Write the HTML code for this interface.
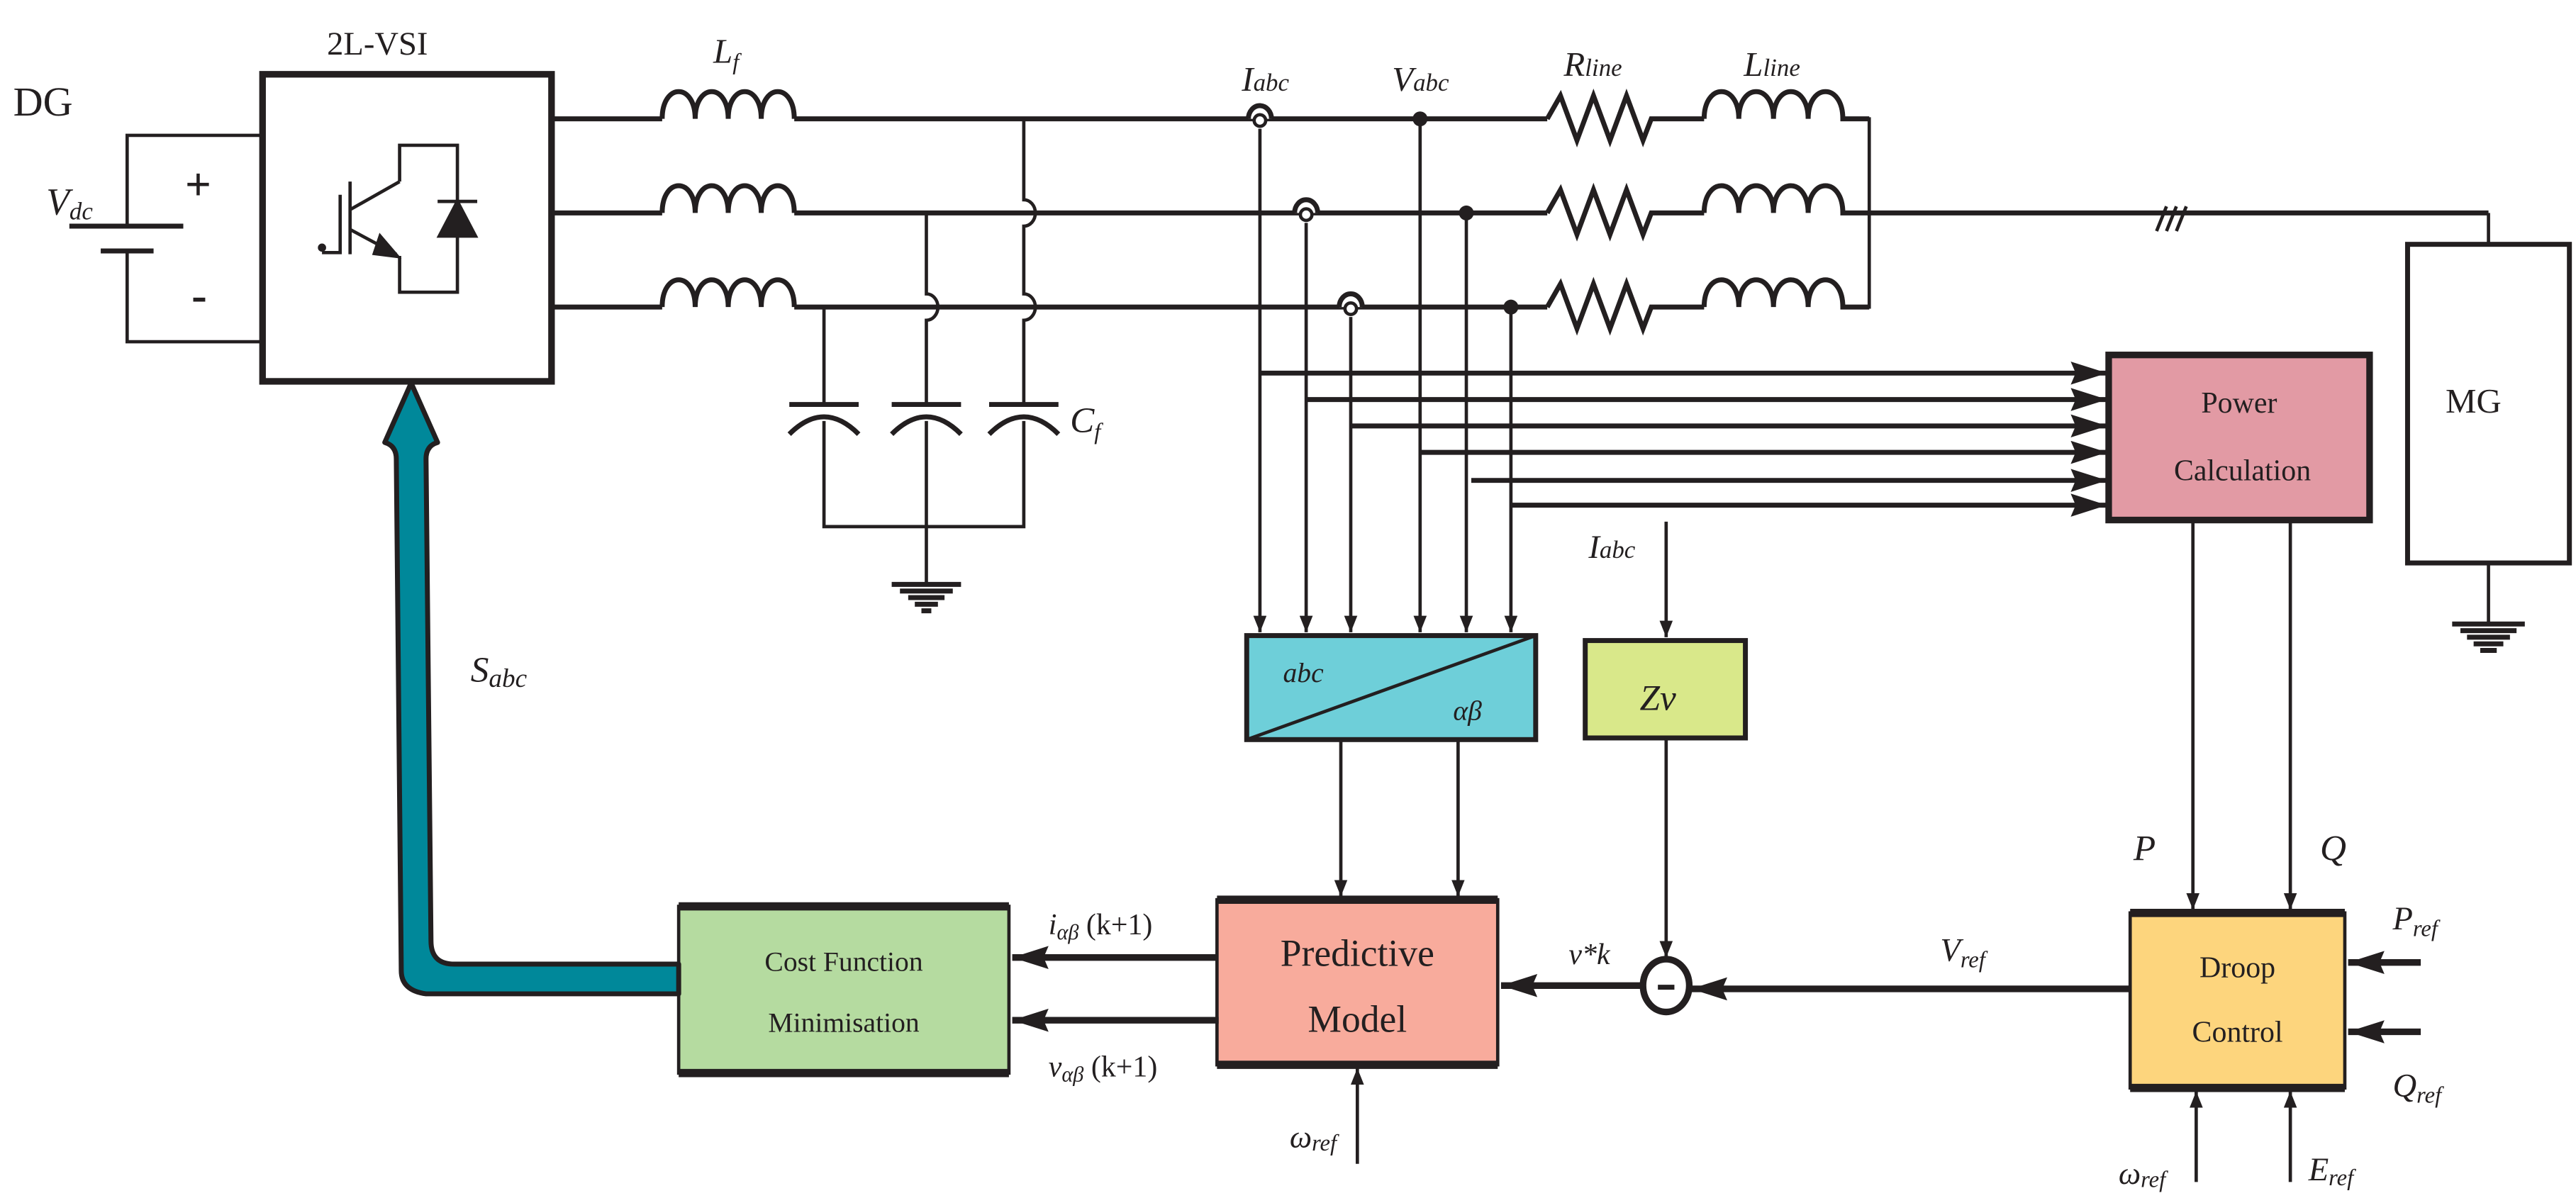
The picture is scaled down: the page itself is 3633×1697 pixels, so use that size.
<!DOCTYPE html>
<html><head><meta charset="utf-8"><style>
html,body{margin:0;padding:0;background:#fff}
svg{display:block}
text{font-family:"Liberation Serif",serif;fill:#231f20}
.i{font-style:italic}
</style></head><body>
<svg width="3633" height="1697" viewBox="0 0 1560 728.7" preserveAspectRatio="none" xmlns="http://www.w3.org/2000/svg">
<defs>
<marker id="a" markerWidth="10" markerHeight="8" refX="10" refY="4" orient="auto" markerUnits="userSpaceOnUse"><path d="M0,0 L10,4 L0,8 Z" fill="#231f20"/></marker>
<marker id="c" markerWidth="22" markerHeight="14" refX="22" refY="7" orient="auto" markerUnits="userSpaceOnUse"><path d="M0,0 L22,7 L0,14 L3,7 Z" fill="#231f20"/></marker>
</defs>
<g stroke="#231f20" fill="none" stroke-linecap="butt">
<path d="M158,82 H77 V137 M77,152 V207 H158" stroke-width="2"/>
<path d="M42,137 H111" stroke-width="3"/><path d="M61,152 H93" stroke-width="3"/>
<rect x="159" y="45" width="175" height="186" stroke-width="4" fill="#fff"/>
<path d="M242,110 V88 H277 V177 H242 V155" stroke-width="2"/>
<path d="M242,110 L212,127 M212,110 V154 M206,118 V153 H195" stroke-width="2"/>
<path d="M212,139 L240,154" stroke-width="2"/>
<path d="M230,142 L242,156 L226,154 Z" fill="#231f20" stroke-width="1"/>
<path d="M265,122 H289 M277,122 L266,143 H288 Z" stroke-width="2" fill="#231f20"/>
<circle cx="195" cy="150" r="2" fill="#231f20"/>
<g stroke-width="3">
<path d="M334,72 H401 M334,129 H401 M334,186 H401"/>
<path d="M401,72 c0,-22 20,-22 20,0 c0,-22 20,-22 20,0 c0,-22 20,-22 20,0 c0,-22 20,-22 20,0 M401,129 c0,-22 20,-22 20,0 c0,-22 20,-22 20,0 c0,-22 20,-22 20,0 c0,-22 20,-22 20,0 M401,186 c0,-22 20,-22 20,0 c0,-22 20,-22 20,0 c0,-22 20,-22 20,0 c0,-22 20,-22 20,0"/>
<path d="M481,72 H937 M481,129 H937 M481,186 H937"/>
<path d="M937,72 l8,-14 l10,27 l10,-27 l10,27 l10,-27 l10,27 l5,-13 H1032 M937,129 l8,-14 l10,27 l10,-27 l10,27 l10,-27 l10,27 l5,-13 H1032 M937,186 l8,-14 l10,27 l10,-27 l10,27 l10,-27 l10,27 l5,-13 H1032"/>
<path d="M1032,72 c0,-22 21,-22 21,0 c0,-22 21,-22 21,0 c0,-22 21,-22 21,0 c0,-22 21,-22 21,0 H1132 M1032,129 c0,-22 21,-22 21,0 c0,-22 21,-22 21,0 c0,-22 21,-22 21,0 c0,-22 21,-22 21,0 H1132 M1032,186 c0,-22 21,-22 21,0 c0,-22 21,-22 21,0 c0,-22 21,-22 21,0 c0,-22 21,-22 21,0 H1132"/>
<path d="M1132,129 H1507"/>
</g>
<path d="M1132,71 V187" stroke-width="2"/>
<path d="M1507,129 V147" stroke-width="2"/>
<path d="M1306,140 l6,-15 M1312,140 l6,-15 M1318,140 l6,-15" stroke-width="2"/>
<g stroke-width="2">
<path d="M620,72 V121 a7,8 0 0 1 0,16 V178 a7,8 0 0 1 0,16 V245"/>
<path d="M561,129 V178 a7,8 0 0 1 0,16 V245"/>
<path d="M499,186 V245"/>
<path d="M499,255 V319 H620 V255 M561,255 V354"/>
</g>
<g stroke-width="3">
<path d="M478,245 H520 M540,245 H582 M599,245 H641"/>
<path d="M478,263 Q499,242 520,263 M540,263 Q561,242 582,263 M599,263 Q620,242 641,263"/>
<path d="M540,354 H582 M545,358 H577 M550,362 H572 M554,366 H568 M558,370 H564"/>
</g>
<rect x="1458" y="148" width="98" height="193" stroke-width="3" fill="#fff"/>
<path d="M1507,341 V378" stroke-width="2"/>
<path d="M1485,378 H1529 M1490,382 H1524 M1494,386 H1520 M1498,390 H1516 M1502,394 H1512" stroke-width="3"/>
<g stroke-width="2">
<path d="M763,78 V383" marker-end="url(#a)"/>
<path d="M791,135 V383" marker-end="url(#a)"/>
<path d="M818,192 V383" marker-end="url(#a)"/>
<path d="M860,72 V383" marker-end="url(#a)"/>
<path d="M888,129 V383" marker-end="url(#a)"/>
<path d="M915,186 V383" marker-end="url(#a)"/>
</g>
<g stroke-width="3">
<path d="M763,226 H1276" marker-end="url(#c)"/>
<path d="M791,242 H1276" marker-end="url(#c)"/>
<path d="M818,258 H1276" marker-end="url(#c)"/>
<path d="M860,274 H1276" marker-end="url(#c)"/>
<path d="M891,291 H1276" marker-end="url(#c)"/>
<path d="M915,306 H1276" marker-end="url(#c)"/>
</g>
<g stroke-width="2" fill="#fff">
<path d="M756,72 a7,8 0 0 1 14,0" stroke-width="3"/><circle cx="763" cy="73" r="3.5"/>
<path d="M784,129 a7,8 0 0 1 14,0" stroke-width="3"/><circle cx="791" cy="130" r="3.5"/>
<path d="M811,186 a7,8 0 0 1 14,0" stroke-width="3"/><circle cx="818" cy="187" r="3.5"/>
</g>
<g fill="#231f20" stroke="none">
<circle cx="860" cy="72" r="4.5"/><circle cx="888" cy="129" r="4.5"/><circle cx="915" cy="186" r="4.5"/>
</g>
<rect x="755" y="385" width="175" height="63" fill="#6ecfd9" stroke-width="3"/>
<path d="M755,448 L930,385" stroke-width="2"/>
<rect x="1277" y="215" width="158" height="100" fill="#e29aa4" stroke-width="4"/>
<path d="M1009,316 V386" stroke-width="2" marker-end="url(#a)"/>
<rect x="960" y="388" width="97" height="59" fill="#d9e88a" stroke-width="3"/>
<path d="M1009,447 V580" stroke-width="2" marker-end="url(#a)"/>
<ellipse cx="1009" cy="597" rx="14" ry="16" stroke-width="4" fill="#fff"/>
<path d="M1004,598 H1014" stroke-width="3"/>
<path d="M1328,315 V551" stroke-width="2" marker-end="url(#a)"/>
<path d="M1387,315 V551" stroke-width="2" marker-end="url(#a)"/>
<rect x="1290" y="553" width="130" height="106" fill="#fdd57d" stroke-width="2"/>
<path d="M1290,553 H1420 M1290,659 H1420" stroke-width="5"/>
<path d="M1466,583 H1422" stroke-width="4" marker-end="url(#c)"/>
<path d="M1466,625 H1422" stroke-width="4" marker-end="url(#c)"/>
<path d="M1330,716 V661" stroke-width="2" marker-end="url(#a)"/>
<path d="M1387,716 V661" stroke-width="2" marker-end="url(#a)"/>
<path d="M1290,599 H1024" stroke-width="4" marker-end="url(#c)"/>
<path d="M995,597 H909" stroke-width="4" marker-end="url(#c)"/>
<path d="M812,448 V543" stroke-width="2" marker-end="url(#a)"/>
<path d="M883,448 V543" stroke-width="2" marker-end="url(#a)"/>
<rect x="737" y="545" width="170" height="100" fill="#f8ab9c" stroke-width="2"/>
<path d="M737,545 H907 M737,645 H907" stroke-width="5"/>
<path d="M822,705 V647" stroke-width="2" marker-end="url(#a)"/>
<path d="M737,580 H613" stroke-width="4" marker-end="url(#c)"/>
<path d="M738,618 H613" stroke-width="4" marker-end="url(#c)"/>
<rect x="411" y="549" width="200" height="101" fill="#b5dba0" stroke-width="2"/>
<path d="M411,549 H611 M411,650 H611" stroke-width="5"/>
<path d="M411,584 H275 Q261,584 261,570 L258,278 Q258,270 265,268 L249,232 L233,268 Q240,270 240,278 L243,588 Q243,600 258,602 H411 Z" fill="#00889a" stroke-width="3" stroke-linejoin="round"/>
</g>
<text x="8" y="70" font-size="25">DG</text>
<text x="198" y="33" font-size="20">2L-VSI</text>
<text x="28" y="130" font-size="23" class="i">V<tspan font-size="15" dy="3">dc</tspan></text>
<text x="112" y="121" font-size="28" font-weight="bold">+</text>
<text x="116" y="188" font-size="28" font-weight="bold">-</text>
<text x="432" y="38" font-size="21" class="i">L<tspan font-size="14" dy="4">f</tspan></text>
<text x="648" y="262" font-size="22" class="i">C<tspan font-size="14" dy="4">f</tspan></text>
<text x="752" y="55" font-size="21" class="i">I<tspan font-size="15">abc</tspan></text>
<text x="843" y="55" font-size="21" class="i">V<tspan font-size="15">abc</tspan></text>
<text x="947" y="46" font-size="21" class="i">R<tspan font-size="15">line</tspan></text>
<text x="1056" y="46" font-size="21" class="i">L<tspan font-size="15">line</tspan></text>
<text x="1481" y="250" font-size="21">MG</text>
<text x="1356" y="250" font-size="18" text-anchor="middle">Power</text>
<text x="1358" y="291" font-size="18" text-anchor="middle">Calculation</text>
<text x="962" y="338" font-size="20" class="i">I<tspan font-size="15">abc</tspan></text>
<text x="777" y="413" font-size="17" class="i">abc</text>
<text x="880" y="436" font-size="17" class="i">αβ</text>
<text x="993" y="430" font-size="22" class="i">Zv</text>
<text x="285" y="413" font-size="22" class="i">S<tspan font-size="16" dy="3">abc</tspan></text>
<text x="1292" y="521" font-size="22" class="i">P</text>
<text x="1405" y="521" font-size="22" class="i">Q</text>
<text x="1449" y="563" font-size="20" class="i">P<tspan font-size="14" dy="4">ref</tspan></text>
<text x="1449" y="664" font-size="20" class="i">Q<tspan font-size="14" dy="4">ref</tspan></text>
<text x="1283" y="717" font-size="19" class="i">ω<tspan font-size="14" dy="2">ref</tspan></text>
<text x="1398" y="715" font-size="20" class="i">E<tspan font-size="14" dy="3">ref</tspan></text>
<text x="1355" y="592" font-size="18" text-anchor="middle">Droop</text>
<text x="1355" y="631" font-size="18" text-anchor="middle">Control</text>
<text x="1175" y="582" font-size="20" class="i">V<tspan font-size="14" dy="4">ref</tspan></text>
<text x="950" y="584" font-size="18" class="i">v*k</text>
<text x="822" y="585" font-size="23" text-anchor="middle">Predictive</text>
<text x="822" y="625" font-size="23" text-anchor="middle">Model</text>
<text x="781" y="695" font-size="19" class="i">ω<tspan font-size="14" dy="2">ref</tspan></text>
<text x="511" y="588" font-size="17" text-anchor="middle">Cost Function</text>
<text x="511" y="625" font-size="17" text-anchor="middle">Minimisation</text>
<text x="635" y="566" font-size="18" class="i">i<tspan font-size="13" dy="3">αβ</tspan><tspan dy="-3" font-style="normal"> (k+1)</tspan></text>
<text x="635" y="652" font-size="18" class="i">v<tspan font-size="13" dy="3">αβ</tspan><tspan dy="-3" font-style="normal"> (k+1)</tspan></text>
</svg>
</body></html>
